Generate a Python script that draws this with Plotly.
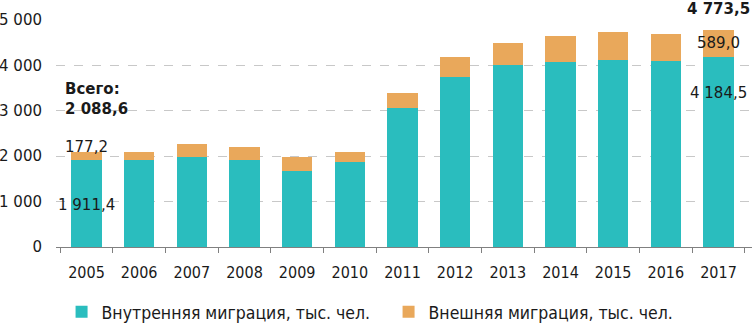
import plotly.graph_objects as go

years = ["2005", "2006", "2007", "2008", "2009", "2010", "2011", "2012", "2013", "2014", "2015", "2016", "2017"]
internal = [1911.4, 1920, 1990, 1920, 1680, 1880, 3055, 3750, 4000, 4070, 4110, 4105, 4184.5]
external = [177.2, 180, 280, 280, 310, 210, 345, 435, 485, 585, 620, 595, 589.0]
y_ticks = [0, 1000, 2000, 3000, 4000, 5000]
y_tick_text = ["0", "1 000", "2 000", "3 000", "4 000", "5 000"]

teal = "#2ABDBE"
orange = "#E9A85B"
wide_font = "DejaVu Sans, Verdana, sans-serif"
narrow_font = "DejaVu Sans Condensed, Liberation Sans Narrow, Arial Narrow, sans-serif"

fig = go.Figure()
fig.add_trace(go.Bar(x=years, y=internal, name="Внутренняя миграция, тыс. чел.",
                     marker=dict(color=teal, line=dict(width=0))))
fig.add_trace(go.Bar(x=years, y=external, name="Внешняя миграция, тыс. чел.",
                     marker=dict(color=orange, line=dict(width=0))))

first = 0
last = len(years) - 1
ann_font = dict(family=wide_font, size=15, color="#1a1a1a")
bold_font = dict(family="DejaVu Sans, Verdana, sans-serif", size=15, color="#1a1a1a")
annotations = [
    dict(x=first, y=925, text="1 911,4", showarrow=False, font=ann_font),
    dict(x=first, y=2203, text="177,2", showarrow=False, font=ann_font),
    dict(x=first, y=3270, text="<b>Всего:<br>2 088,6</b>", showarrow=False, font=bold_font,
         xanchor="left", xshift=-24, align="left"),
    dict(x=last, y=5000, yshift=11, text="<b>4 773,5</b>", showarrow=False, font=bold_font),
    dict(x=last, y=4493, text="589,0", showarrow=False, font=ann_font),
    dict(x=last, y=3392, text="4 184,5", showarrow=False, font=ann_font),
]

fig.update_layout(
    barmode="stack",
    bargap=0.43,
    width=752, height=323,
    margin=dict(l=56, r=0, t=20, b=76, autoexpand=False),
    plot_bgcolor="white", paper_bgcolor="white",
    showlegend=True,
    legend=dict(orientation="h", x=0.008, xanchor="left", y=-0.286, yanchor="middle",
                font=dict(family=narrow_font, size=17.5, color="#1a1a1a"),
                itemwidth=30, entrywidth=282, traceorder="normal"),
    annotations=annotations,
    xaxis=dict(type="category", showgrid=False, showline=True, linecolor="#808080", linewidth=1,
               ticks="outside", tickson="boundaries", ticklen=5, tickcolor="#808080",
               ticklabelstandoff=11,
               tickfont=dict(family=narrow_font, size=16, color="#1a1a1a")),
    yaxis=dict(range=[0, 5000], tickvals=y_ticks, ticktext=y_tick_text,
               showgrid=True, gridcolor="#c8c8c8", griddash="dash", gridwidth=1,
               zeroline=False, showline=False, ticks="", ticklabelstandoff=13,
               tickfont=dict(family=wide_font, size=15, color="#1a1a1a")),
)

fig.write_html("out.html", config={"displayModeBar": False},
               post_script="document.body.style.margin='0';")
